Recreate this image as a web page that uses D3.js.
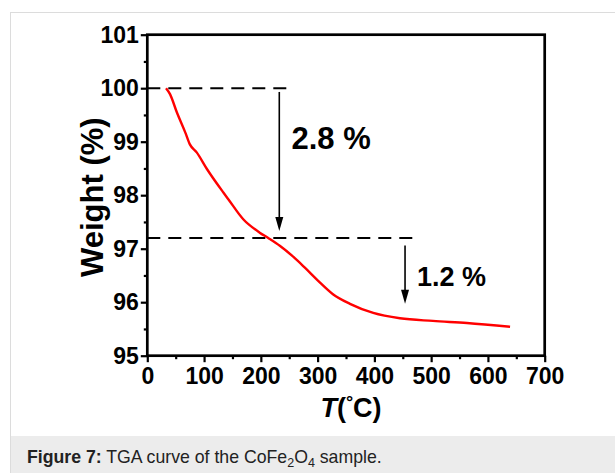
<!DOCTYPE html>
<html>
<head>
<meta charset="utf-8">
<script src="https://cdn.jsdelivr.net/npm/d3@7/dist/d3.min.js"></script>
<style>
  html, body { margin: 0; padding: 0; background: #fff; }
  svg { display: block; }
  text { font-family: "Liberation Sans", Arial, Helvetica, sans-serif; }
</style>
</head>
<body>
<svg id="chart" width="615" height="473"></svg>
<script>
// ---- data ----
const temperature = [33, 40, 52, 67, 75, 87, 105, 134, 143, 169, 198, 213, 234, 257, 278, 301, 327, 357, 398, 445, 503, 563, 639];
const weight      = [100, 99.89, 99.55, 99.17, 98.95, 98.8, 98.49, 98.05, 97.92, 97.55, 97.3, 97.2, 97.05, 96.85, 96.64, 96.4, 96.15, 95.97, 95.8, 95.7, 95.65, 95.61, 95.54];
const xTicks = [0, 100, 200, 300, 400, 500, 600, 700];
const yTicks = [95, 96, 97, 98, 99, 100, 101];
const xMinorTicks = [50, 150, 250, 350, 450, 550, 650];
const yMinorTicks = [95.5, 96.5, 97.5, 98.5, 99.5, 100.5];
// dashed reference lines: level, start T, end T
const refLevels = [100, 97.2];
const refStart  = [0, 0];
const refEnd    = [251, 472];
// arrows: T position, from weight, to weight
const arrowT    = [232.5, 454];
const arrowFrom = [99.93, 97.06];
const arrowTo   = [97.33, 95.97];
// labels
const lossLabels = ["2.8 %", "1.2 %"];
const labelT     = [254, 475];
const labelW     = [98.86, 96.3];

const svg = d3.select("#chart");

// panel frame and caption background
svg.append("rect").attr("x", 10.5).attr("y", 12.5).attr("width", 620).attr("height", 470)
  .attr("fill", "#fff").attr("stroke", "#dcdcdc").attr("stroke-width", 1);
svg.append("rect").attr("x", 11).attr("y", 436).attr("width", 604).attr("height", 37)
  .attr("fill", "#ececec");

const margin = { left: 147.3, right: 544.7, top: 34.7, bottom: 355.7 };
const x = d3.scaleLinear().domain([0, 700]).range([margin.left, margin.right]);
const y = d3.scaleLinear().domain([95, 101]).range([margin.bottom, margin.top]);

const g = svg.append("g");

// plot frame
g.append("rect")
  .attr("x", x(0)).attr("y", y(101))
  .attr("width", x(700) - x(0)).attr("height", y(95) - y(101))
  .attr("fill", "none").attr("stroke", "#000").attr("stroke-width", 2.7);

// axes
const xAxis = d3.axisBottom(x).tickValues(xTicks).tickSize(6.5).tickPadding(5).tickFormat(d3.format("d"));
const yAxis = d3.axisLeft(y).tickValues(yTicks).tickSize(6.5).tickPadding(2).tickFormat(d3.format("d"));
const xMinor = d3.axisBottom(x).tickValues(xMinorTicks).tickSize(3.5).tickFormat("");
const yMinor = d3.axisLeft(y).tickValues(yMinorTicks).tickSize(3.5).tickFormat("");

function styleAxis(sel) {
  sel.select(".domain").remove();
  sel.selectAll(".tick line").attr("stroke", "#000").attr("stroke-width", 2.2);
  sel.selectAll(".tick text").attr("fill", "#000").style("font-size", "23px").style("font-weight", "bold");
}
g.append("g").attr("transform", `translate(0,${y(95)})`).call(xAxis).call(styleAxis);
g.append("g").attr("transform", `translate(${x(0)},0)`).call(yAxis).call(styleAxis);
g.append("g").attr("transform", `translate(0,${y(95)})`).call(xMinor).call(styleAxis);
g.append("g").attr("transform", `translate(${x(0)},0)`).call(yMinor).call(styleAxis);

// axis titles
g.append("text")
  .attr("transform", `translate(103,${(y(95) + y(101)) / 2 + 2}) rotate(-90)`)
  .attr("text-anchor", "middle")
  .style("font-size", "31px").style("font-weight", "bold")
  .text("Weight (%)");

const xt = g.append("text")
  .attr("x", (x(0) + x(700)) / 2 + 5).attr("y", 417)
  .attr("text-anchor", "middle")
  .style("font-size", "27px").style("font-weight", "bold");
xt.append("tspan").style("font-style", "italic").text("T");
xt.append("tspan").text("(");
xt.append("tspan").style("font-size", "18px").attr("dy", -9).text("°");
xt.append("tspan").attr("dy", 9).text("C)");

// dashed reference lines
refLevels.forEach((lv, i) => {
  g.append("line")
    .attr("x1", x(refStart[i])).attr("x2", x(refEnd[i]))
    .attr("y1", y(lv)).attr("y2", y(lv))
    .attr("stroke", "#000").attr("stroke-width", 2)
    .attr("stroke-dasharray", "13,8");
});

// TGA curve
const pts = temperature.map((t, i) => [t, weight[i]]);
g.append("path")
  .datum(pts)
  .attr("fill", "none").attr("stroke", "#ff0000").attr("stroke-width", 2.4)
  .attr("d", d3.line().x(d => x(d[0])).y(d => y(d[1])).curve(d3.curveMonotoneX));

// arrows
arrowT.forEach((t, i) => {
  const xa = x(t), y1 = y(arrowFrom[i]), y2 = y(arrowTo[i]);
  const headLen = 14, headW = 4;
  g.append("line")
    .attr("x1", xa).attr("x2", xa).attr("y1", y1).attr("y2", y2 - headLen + 2)
    .attr("stroke", "#000").attr("stroke-width", 1.6);
  g.append("path")
    .attr("d", `M${xa - headW},${y2 - headLen} L${xa + headW},${y2 - headLen} L${xa},${y2} Z`)
    .attr("fill", "#000");
});

// loss labels
const labelSize = [31, 27];
lossLabels.forEach((s, i) => {
  g.append("text")
    .attr("x", x(labelT[i])).attr("y", y(labelW[i]))
    .style("font-size", labelSize[i] + "px").style("font-weight", "bold")
    .text(s);
});

// caption
const cap = svg.append("text").attr("x", 27).attr("y", 463)
  .attr("fill", "#222").style("font-size", "17.7px");
cap.append("tspan").style("font-weight", "bold").text("Figure 7:");
cap.append("tspan").text(" TGA curve of the CoFe");
cap.append("tspan").style("font-size", "12.5px").attr("dy", 4).text("2");
cap.append("tspan").attr("dy", -4).text("O");
cap.append("tspan").style("font-size", "12.5px").attr("dy", 4).text("4");
cap.append("tspan").attr("dy", -4).text(" sample.");
</script>
</body>
</html>
